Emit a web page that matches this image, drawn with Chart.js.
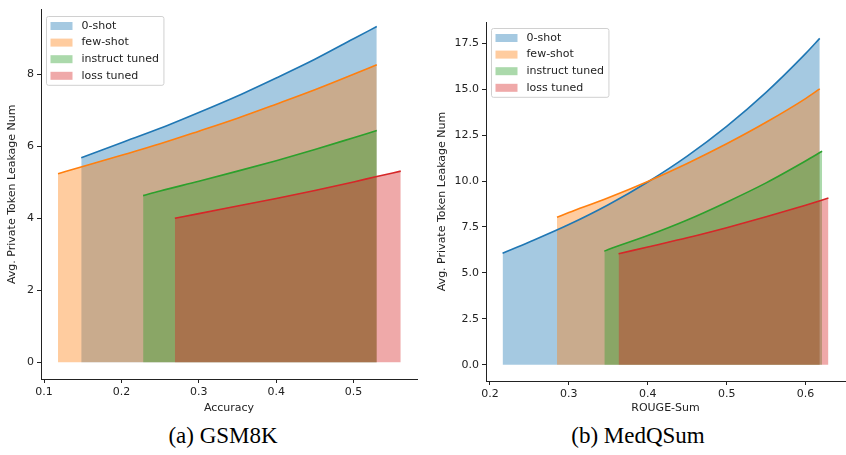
<!DOCTYPE html>
<html>
<head>
<meta charset="utf-8">
<script src="https://cdn.jsdelivr.net/npm/chart.js@4"></script>
<style>
  body { margin: 0; background: #fff; width: 846px; height: 455px; position: relative; overflow: hidden; }
  canvas { position: absolute; top: 0; }
  #gsm { left: 0; }
  #med { left: 425px; }
  .cap { position: absolute; top: 423px; width: 300px; text-align: center;
         font-family: "Liberation Serif", serif; font-size: 23px; color: #000; }
</style>
</head>
<body>
<canvas id="gsm" width="420" height="420"></canvas>
<canvas id="med" width="421" height="420"></canvas>
<div class="cap" style="left:73px">(a) GSM8K</div>
<div class="cap" style="left:488px">(b) MedQSum</div>
<script>
const seriesLabels = ['0-shot', 'few-shot', 'instruct tuned', 'loss tuned'];

// GSM8K: accuracy vs leakage
const gsmZeroX = [0.148, 0.2, 0.25, 0.3, 0.35, 0.4, 0.45, 0.5, 0.53];
const gsmZeroY = [5.68, 6.10, 6.50, 6.94, 7.40, 7.90, 8.42, 8.99, 9.33];
const gsmFewX = [0.118, 0.15, 0.2, 0.25, 0.3, 0.35, 0.4, 0.45, 0.5, 0.53];
const gsmFewY = [5.24, 5.44, 5.75, 6.07, 6.42, 6.78, 7.17, 7.57, 8.00, 8.27];
const gsmInstX = [0.228, 0.25, 0.3, 0.35, 0.4, 0.45, 0.5, 0.53];
const gsmInstY = [4.63, 4.76, 5.03, 5.31, 5.60, 5.91, 6.24, 6.44];
const gsmLossX = [0.269, 0.3, 0.35, 0.4, 0.45, 0.5, 0.53, 0.561];
const gsmLossY = [4.00, 4.13, 4.34, 4.55, 4.77, 5.01, 5.16, 5.31];
const gsmXTicks = [0.1, 0.2, 0.3, 0.4, 0.5];
const gsmYTicks = [0, 2, 4, 6, 8];

// MedQSum: ROUGE-Sum vs leakage
const medZeroX = [0.216, 0.25, 0.3, 0.35, 0.4, 0.45, 0.5, 0.55, 0.6, 0.618];
const medZeroY = [6.07, 6.68, 7.63, 8.71, 9.95, 11.36, 12.98, 14.83, 16.94, 17.77];
const medFewX = [0.285, 0.3, 0.35, 0.4, 0.45, 0.5, 0.55, 0.6, 0.618];
const medFewY = [8.03, 8.28, 9.09, 9.98, 10.96, 12.03, 13.20, 14.49, 15.02];
const medInstX = [0.345, 0.35, 0.4, 0.45, 0.5, 0.55, 0.6, 0.621];
const medInstY = [6.18, 6.27, 7.03, 7.88, 8.85, 9.90, 11.09, 11.62];
const medLossX = [0.363, 0.4, 0.45, 0.5, 0.55, 0.6, 0.629];
const medLossY = [6.04, 6.41, 6.91, 7.46, 8.05, 8.68, 9.07];
const medXTicks = [0.2, 0.3, 0.4, 0.5, 0.6];
const medYTicks = [0, 2.5, 5, 7.5, 10, 12.5, 15, 17.5];

const lineColors = ['#1f77b4', '#ff7f0e', '#2ca02c', '#d62728'];
const fillColors = ['rgba(31,119,180,0.4)', 'rgba(255,127,14,0.4)', 'rgba(44,160,44,0.4)', 'rgba(214,39,40,0.4)'];
const font = { family: 'DejaVu Sans', size: 11 };
const ink = '#222';

function pts(xs, ys) {
  return xs.map((x, i) => ({ x: x, y: ys[i] }));
}

// matplotlib-style legend box in the upper left of the plot area
const boxLegend = {
  id: 'boxLegend',
  afterDraw(chart) {
    const ctx = chart.ctx;
    const area = chart.chartArea;
    const sets = chart.data.datasets;
    const x0 = Math.round(area.left + 5) + 0.5, y0 = Math.round(area.top + 6) + 0.5;
    ctx.save();
    ctx.font = '11px "DejaVu Sans"';
    let tw = 0;
    sets.forEach(d => { tw = Math.max(tw, ctx.measureText(d.label).width); });
    const w = 4 + 22 + 9 + tw + 5, h = 19 + 16.6 * (sets.length - 1);
    ctx.beginPath();
    ctx.roundRect(x0, y0, w, h, 2);
    ctx.fillStyle = 'rgba(255,255,255,0.8)';
    ctx.fill();
    ctx.strokeStyle = '#d0d0d0';
    ctx.lineWidth = 1;
    ctx.stroke();
    sets.forEach((d, i) => {
      const cy = y0 + 9.5 + i * 16.6;
      ctx.fillStyle = d.backgroundColor;
      ctx.fillRect(x0 + 4, cy - 4, 22, 8);
      ctx.fillStyle = ink;
      ctx.textBaseline = 'middle';
      ctx.fillText(d.label, x0 + 35, cy);
    });
    ctx.restore();
  }
};

function makeChart(id, o) {
  const datasets = o.series.map((s, i) => ({
    label: seriesLabels[i],
    data: pts(s[0], s[1]),
    borderColor: lineColors[i],
    backgroundColor: fillColors[i],
    fill: 'origin',
    borderWidth: 1.6,
    pointRadius: 0,
    cubicInterpolationMode: 'monotone',
    order: 4 - i
  }));
  return new Chart(document.getElementById(id).getContext('2d'), {
    type: 'line',
    data: { datasets: datasets },
    plugins: [boxLegend],
    options: {
      responsive: false,
      animation: false,
      layout: { padding: o.padding },
      plugins: {
        legend: { display: false },
        tooltip: { enabled: false },
        filler: { drawTime: 'beforeDatasetsDraw' }
      },
      scales: {
        x: {
          type: 'linear', min: o.xMin, max: o.xMax,
          afterBuildTicks: s => { s.ticks = o.xTicks.map(v => ({ value: v })); },
          afterFit: s => { s.height = o.xH; },
          ticks: { font: font, color: ink, padding: 3, maxRotation: 0, autoSkip: false,
                   callback: v => v.toFixed(1) },
          grid: { drawOnChartArea: false, drawTicks: true, tickLength: 4, color: ink },
          border: { display: true, color: ink, width: 1 },
          title: { display: true, text: o.xTitle, font: font, color: ink, padding: { top: 0, bottom: 5 } }
        },
        y: {
          type: 'linear', min: o.yMin, max: o.yMax,
          afterBuildTicks: s => { s.ticks = o.yTicks.map(v => ({ value: v })); },
          afterFit: s => { s.width = o.yW; },
          ticks: { font: font, color: ink, padding: 3, autoSkip: false,
                   callback: v => v.toFixed(o.yDigits) },
          grid: { drawOnChartArea: false, drawTicks: true, tickLength: 4, color: ink },
          border: { display: true, color: ink, width: 1 },
          title: { display: true, text: 'Avg. Private Token Leakage Num', font: font, color: ink,
                   padding: { top: o.yTitlePad, bottom: 0 } }
        }
      }
    }
  });
}

makeChart('gsm', {
  series: [[gsmZeroX, gsmZeroY], [gsmFewX, gsmFewY], [gsmInstX, gsmInstY], [gsmLossX, gsmLossY]],
  xMin: 0.096, xMax: 0.582, yMin: -0.467, yMax: 9.8,
  xTicks: gsmXTicks, yTicks: gsmYTicks, yDigits: 0,
  xTitle: 'Accuracy', padding: { top: 5, right: 3, left: 0, bottom: 0 },
  yW: 41, xH: 41, yTitlePad: 6
});

makeChart('med', {
  series: [[medZeroX, medZeroY], [medFewX, medFewY], [medInstX, medInstY], [medLossX, medLossY]],
  xMin: 0.195, xMax: 0.65, yMin: -0.889, yMax: 18.66,
  xTicks: medXTicks, yTicks: medYTicks, yDigits: 1,
  xTitle: 'ROUGE-Sum', padding: { top: 22, right: 1, left: 0, bottom: 0 },
  yW: 61, xH: 39, yTitlePad: 11
});
</script>
</body>
</html>
